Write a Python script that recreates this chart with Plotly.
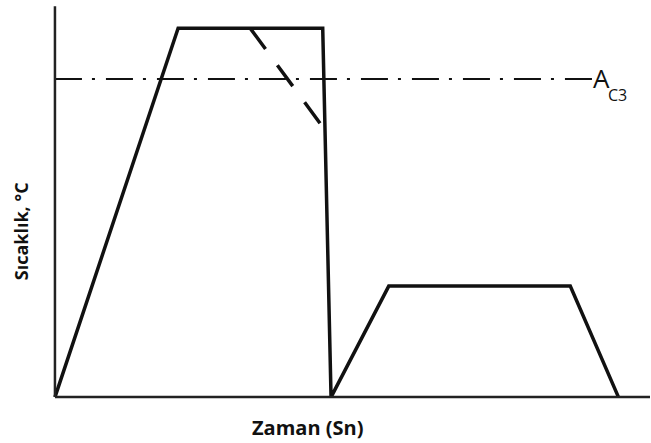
import plotly.graph_objects as go

# Main heat-treatment cycle (time, temperature) in relative units
time_main = [0, 20.7, 45.0, 46.4, 56.1, 86.6, 94.7]
temp_main = [0, 94.1, 94.1, 0, 28.3, 28.3, 0]

# Dashed alternative cooling path
time_dash = [32.8, 45.0]
temp_dash = [94.1, 68.9]

# A_C3 critical temperature line
ac3_level = 81.1
ac3_x = [0, 90.3]

x_title = "Zaman (Sn)"
y_title = "Sıcaklık, °C"

fig = go.Figure()

fig.add_trace(go.Scatter(
    x=ac3_x, y=[ac3_level, ac3_level], mode="lines",
    line=dict(color="#111111", width=2, dash="27px,10px,3px,11px"),
    hoverinfo="skip", showlegend=False))

fig.add_trace(go.Scatter(
    x=time_dash, y=temp_dash, mode="lines",
    line=dict(color="#111111", width=3.5, dash="26px,20px"),
    hoverinfo="skip", showlegend=False))

fig.add_trace(go.Scatter(
    x=time_main, y=temp_main, mode="lines",
    line=dict(color="#111111", width=3.5),
    hoverinfo="skip", showlegend=False))

# axis lines
fig.add_shape(type="line", x0=0, x1=100, y0=0, y1=0, xref="x", yref="y",
              line=dict(color="#222222", width=2.5))
fig.add_shape(type="line", x0=0, x1=0, y0=0, y1=99.7, xref="x", yref="y",
              line=dict(color="#222222", width=2.5))

# A_C3 label
fig.add_annotation(x=90.3, y=ac3_level, xref="x", yref="y",
                   text="A", showarrow=False, xanchor="left", yanchor="middle",
                   xshift=-1, yshift=1,
                   font=dict(family="Open Sans", size=26, color="#111111"))
fig.add_annotation(x=90.3, y=ac3_level, xref="x", yref="y",
                   text="C3", showarrow=False, xanchor="left", yanchor="middle",
                   xshift=14, yshift=-16,
                   font=dict(family="Open Sans", size=16, color="#111111"))

fig.add_annotation(x=42.4, y=0, xref="x", yref="paper",
                   text="<b>" + x_title + "</b>", showarrow=False,
                   xanchor="center", yanchor="middle", yshift=-26,
                   font=dict(family="Open Sans", size=20, color="#111111"))

fig.add_annotation(x=0, y=42.3, xref="paper", yref="y",
                   text="<b>" + y_title + "</b>", showarrow=False,
                   textangle=-90, xanchor="center", yanchor="middle",
                   xshift=-28,
                   font=dict(family="Open Sans", size=18, color="#111111"))

fig.update_xaxes(range=[-1, 100], visible=False)
fig.update_yaxes(range=[-1, 100], visible=False)

fig.update_layout(
    width=651, height=443,
    margin=dict(l=49, r=1, t=5, b=42),
    paper_bgcolor="white", plot_bgcolor="white",
    showlegend=False,
)

fig.write_html("out.html",
               config={"displayModeBar": False},
               post_script="document.body.style.margin='0';document.body.style.overflow='hidden';")
